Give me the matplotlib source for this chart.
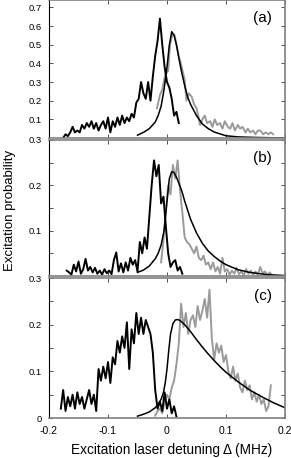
import numpy as np
import matplotlib
matplotlib.use('Agg')
import matplotlib.pyplot as plt

plt.rcParams['font.family'] = ['Liberation Sans', 'DejaVu Sans']

# ---------- panel (a) ----------
xa_black = np.arange(-0.176, 0.0201, 0.004)
ya_black = [0.00, 0.02, 0.01, 0.03, 0.06, 0.03, 0.04, 0.03, 0.07, 0.05,
            0.08, 0.06, 0.09, 0.05, 0.08, 0.04, 0.07, 0.09, 0.05, 0.11,
            0.03, 0.09, 0.06, 0.11, 0.07, 0.12, 0.08, 0.11, 0.09, 0.13,
            0.11, 0.19, 0.21, 0.30, 0.24, 0.21, 0.30, 0.20, 0.33, 0.44,
            0.52, 0.64, 0.50, 0.38, 0.30, 0.27, 0.21, 0.12, 0.14, 0.08]

xa_gray = [-0.017, -0.012, -0.008, -0.003, 0.002, 0.005, 0.008, 0.010, 0.013,
           0.016, 0.020, 0.025, 0.030, 0.033, 0.037, 0.042, 0.046, 0.050,
           0.053, 0.056, 0.060, 0.064, 0.068, 0.073, 0.077, 0.081, 0.085,
           0.090, 0.094, 0.098, 0.103, 0.107, 0.111, 0.115, 0.120, 0.124,
           0.128, 0.133, 0.137, 0.141, 0.146, 0.150, 0.154, 0.158, 0.163,
           0.167, 0.172, 0.176, 0.180]
ya_gray = [0.16, 0.23, 0.26, 0.34, 0.36, 0.50, 0.54, 0.56, 0.55,
           0.50, 0.44, 0.38, 0.31, 0.20, 0.24, 0.22, 0.18, 0.16,
           0.12, 0.07, 0.10, 0.12, 0.08, 0.09, 0.06, 0.10, 0.07,
           0.08, 0.05, 0.09, 0.06, 0.05, 0.08, 0.04, 0.07, 0.05,
           0.06, 0.03, 0.05, 0.03, 0.04, 0.02, 0.04, 0.04, 0.02,
           0.03, 0.02, 0.03, 0.02]

xa_fit = [-0.050, -0.040, -0.030, -0.020, -0.015, -0.010, -0.005, 0.000, 0.004,
          0.008, 0.012, 0.016, 0.020, 0.025, 0.030, 0.035, 0.040, 0.050, 0.060,
          0.070, 0.080, 0.100, 0.120, 0.150, 0.200]
ya_fit = [0.015, 0.03, 0.05, 0.085, 0.12, 0.17, 0.26, 0.38, 0.50,
          0.57, 0.55, 0.50, 0.43, 0.35, 0.28, 0.22, 0.18, 0.12, 0.075,
          0.05, 0.032, 0.012, 0.006, 0.003, 0.0]

# ---------- panel (b) ----------
xb_black = np.arange(-0.170, 0.0281, 0.004)
yb_black = [0.012, 0.008, 0.003, 0.025, 0.010, 0.032, 0.005, 0.015, 0.038, 0.012,
            0.020, 0.008, 0.018, 0.005, 0.012, 0.003, 0.015, 0.006, 0.012, 0.004,
            0.035, 0.052, 0.010, 0.028, 0.008, 0.030, 0.012, 0.040, 0.025, 0.035,
            0.010, 0.075, 0.050, 0.085, 0.060, 0.130, 0.200, 0.255, 0.220, 0.245,
            0.160, 0.175, 0.110, 0.050, 0.020, 0.030, 0.035, 0.012, 0.020, 0.005]

xb_gray = np.arange(-0.010, 0.1781, 0.004)
yb_gray = [0.030, 0.080, 0.140, 0.200, 0.180, 0.245, 0.215, 0.255, 0.190, 0.140,
           0.085, 0.075, 0.070, 0.060, 0.050, 0.065, 0.040, 0.035, 0.045, 0.025,
           0.030, 0.015, 0.030, 0.010, 0.020, 0.005, 0.040, 0.010, 0.015, 0.003,
           0.012, 0.005, 0.018, 0.004, 0.010, 0.002, 0.015, 0.005, 0.012, 0.003,
           0.010, 0.002, 0.020, 0.006, 0.010, 0.002, 0.008, 0.002]

xb_fit = [-0.050, -0.040, -0.030, -0.020, -0.015, -0.010, -0.005, 0.000, 0.004,
          0.008, 0.012, 0.016, 0.020, 0.025, 0.030, 0.035, 0.040, 0.050, 0.060,
          0.070, 0.080, 0.090, 0.100, 0.120, 0.140, 0.170, 0.200]
yb_fit = [0.008, 0.013, 0.022, 0.038, 0.050, 0.068, 0.100, 0.165, 0.215,
          0.230, 0.228, 0.218, 0.205, 0.188, 0.165, 0.145, 0.125, 0.095, 0.072,
          0.055, 0.043, 0.033, 0.025, 0.014, 0.008, 0.003, 0.001]

# ---------- panel (c) ----------
xc_black = np.arange(-0.180, 0.0161, 0.004)
yc_black = [0.020, 0.060, 0.015, 0.045, 0.025, 0.050, 0.020, 0.055, 0.030, 0.045,
            0.020, 0.040, 0.060, 0.030, 0.050, 0.015, 0.105, 0.080, 0.110, 0.085,
            0.120, 0.075, 0.130, 0.115, 0.165, 0.140, 0.175, 0.150, 0.205, 0.105,
            0.190, 0.160, 0.225, 0.180, 0.215, 0.180, 0.210, 0.195, 0.180, 0.140,
            0.060, 0.020, 0.035, 0.015, 0.055, 0.020, 0.040, 0.010, 0.025, 0.003]

xc_gray = np.arange(-0.020, 0.1761, 0.004)
yc_gray = [0.005, 0.015, 0.020, 0.010, 0.035, 0.050, 0.040, 0.065, 0.080, 0.115,
           0.160, 0.245, 0.195, 0.225, 0.180, 0.210, 0.220, 0.195, 0.240, 0.210,
           0.230, 0.255, 0.215, 0.275, 0.170, 0.125, 0.160, 0.140, 0.155, 0.120,
           0.135, 0.100, 0.085, 0.110, 0.080, 0.095, 0.065, 0.055, 0.080, 0.060,
           0.070, 0.040, 0.055, 0.035, 0.050, 0.030, 0.040, 0.015, 0.025, 0.070]

xc_fit = [-0.050, -0.040, -0.030, -0.020, -0.015, -0.010, -0.006, -0.003, 0.000,
          0.003, 0.006, 0.010, 0.014, 0.018, 0.022, 0.030, 0.040, 0.050, 0.060,
          0.070, 0.080, 0.090, 0.100, 0.120, 0.140, 0.160, 0.180, 0.200]
yc_fit = [0.004, 0.008, 0.013, 0.022, 0.030, 0.040, 0.055, 0.075, 0.105,
          0.145, 0.180, 0.202, 0.210, 0.211, 0.209, 0.200, 0.185, 0.168, 0.152,
          0.137, 0.123, 0.110, 0.098, 0.078, 0.060, 0.046, 0.033, 0.022]

panels = [
    ('(a)', xa_black, ya_black, xa_gray, ya_gray, xa_fit, ya_fit, (0, 0.74),
     np.arange(0.1, 0.71, 0.1), np.arange(0.1, 0.71, 0.1)),
    ('(b)', xb_black, yb_black, xb_gray, yb_gray, xb_fit, yb_fit, (0, 0.3),
     np.arange(0.05, 0.301, 0.05), [0.1, 0.2, 0.3]),
    ('(c)', xc_black, yc_black, xc_gray, yc_gray, xc_fit, yc_fit, (0, 0.3),
     np.arange(0, 0.301, 0.05), [0, 0.1, 0.2, 0.3]),
]

fig = plt.figure(figsize=(2.91, 4.58), dpi=100)
bounds = [(0, 138), (140, 276), (278, 418)]
W, H = 291.0, 458.0
left, right = 49 / W, 285 / W

for (lab, xk, yk, xg, yg, xf, yf, ylim, yt, ytl), (t, b) in zip(panels, bounds):
    ax = fig.add_axes([left, 1 - b / H, right - left, (b - t) / H])
    ax.plot(xg, yg, color='#9a9a9a', lw=1.4)
    ax.plot(xk, yk, color='black', lw=1.4)
    ax.plot(xf, yf, color='black', lw=1.1)
    ax.set_xlim(-0.2, 0.2)
    ax.set_ylim(*ylim)
    ax.set_xticks([-0.2, -0.1, 0, 0.1, 0.2])
    ax.set_yticks(yt)
    ax.set_yticklabels(['%g' % v if any(abs(v - w) < 1e-9 for w in ytl) else ''
                        for v in yt])
    ax.tick_params(direction='in', top=True, right=True, length=3, width=0.6,
                   labelsize=6.8, pad=5, color='#333333')
    ax.tick_params(axis='x', labelsize=7.5, pad=6)
    for s in ['top', 'right', 'bottom']:
        ax.spines[s].set_color('#808080')
        ax.spines[s].set_linewidth(1.2)
    ax.spines['left'].set_color('black')
    ax.spines['left'].set_linewidth(0.8)
    ax.text(0.945, 0.87, lab, transform=ax.transAxes, ha='right', va='center',
            fontsize=11)
    if lab != '(c)':
        ax.set_xticklabels([])
    else:
        ax.set_xticklabels(['-0.2', '-0.1', '0', '0.1', '0.2'])

fig.text(10 / W, 1 - 210 / H, 'Excitation probability', rotation=90,
         ha='center', va='center', fontsize=9.5)
fig.text(171.5 / W, 1 - 450 / H,
         'Excitation laser detuning \u0394 (MHz)', ha='center', va='center',
         fontsize=9.8)

fig.savefig('out.png', dpi=100)
